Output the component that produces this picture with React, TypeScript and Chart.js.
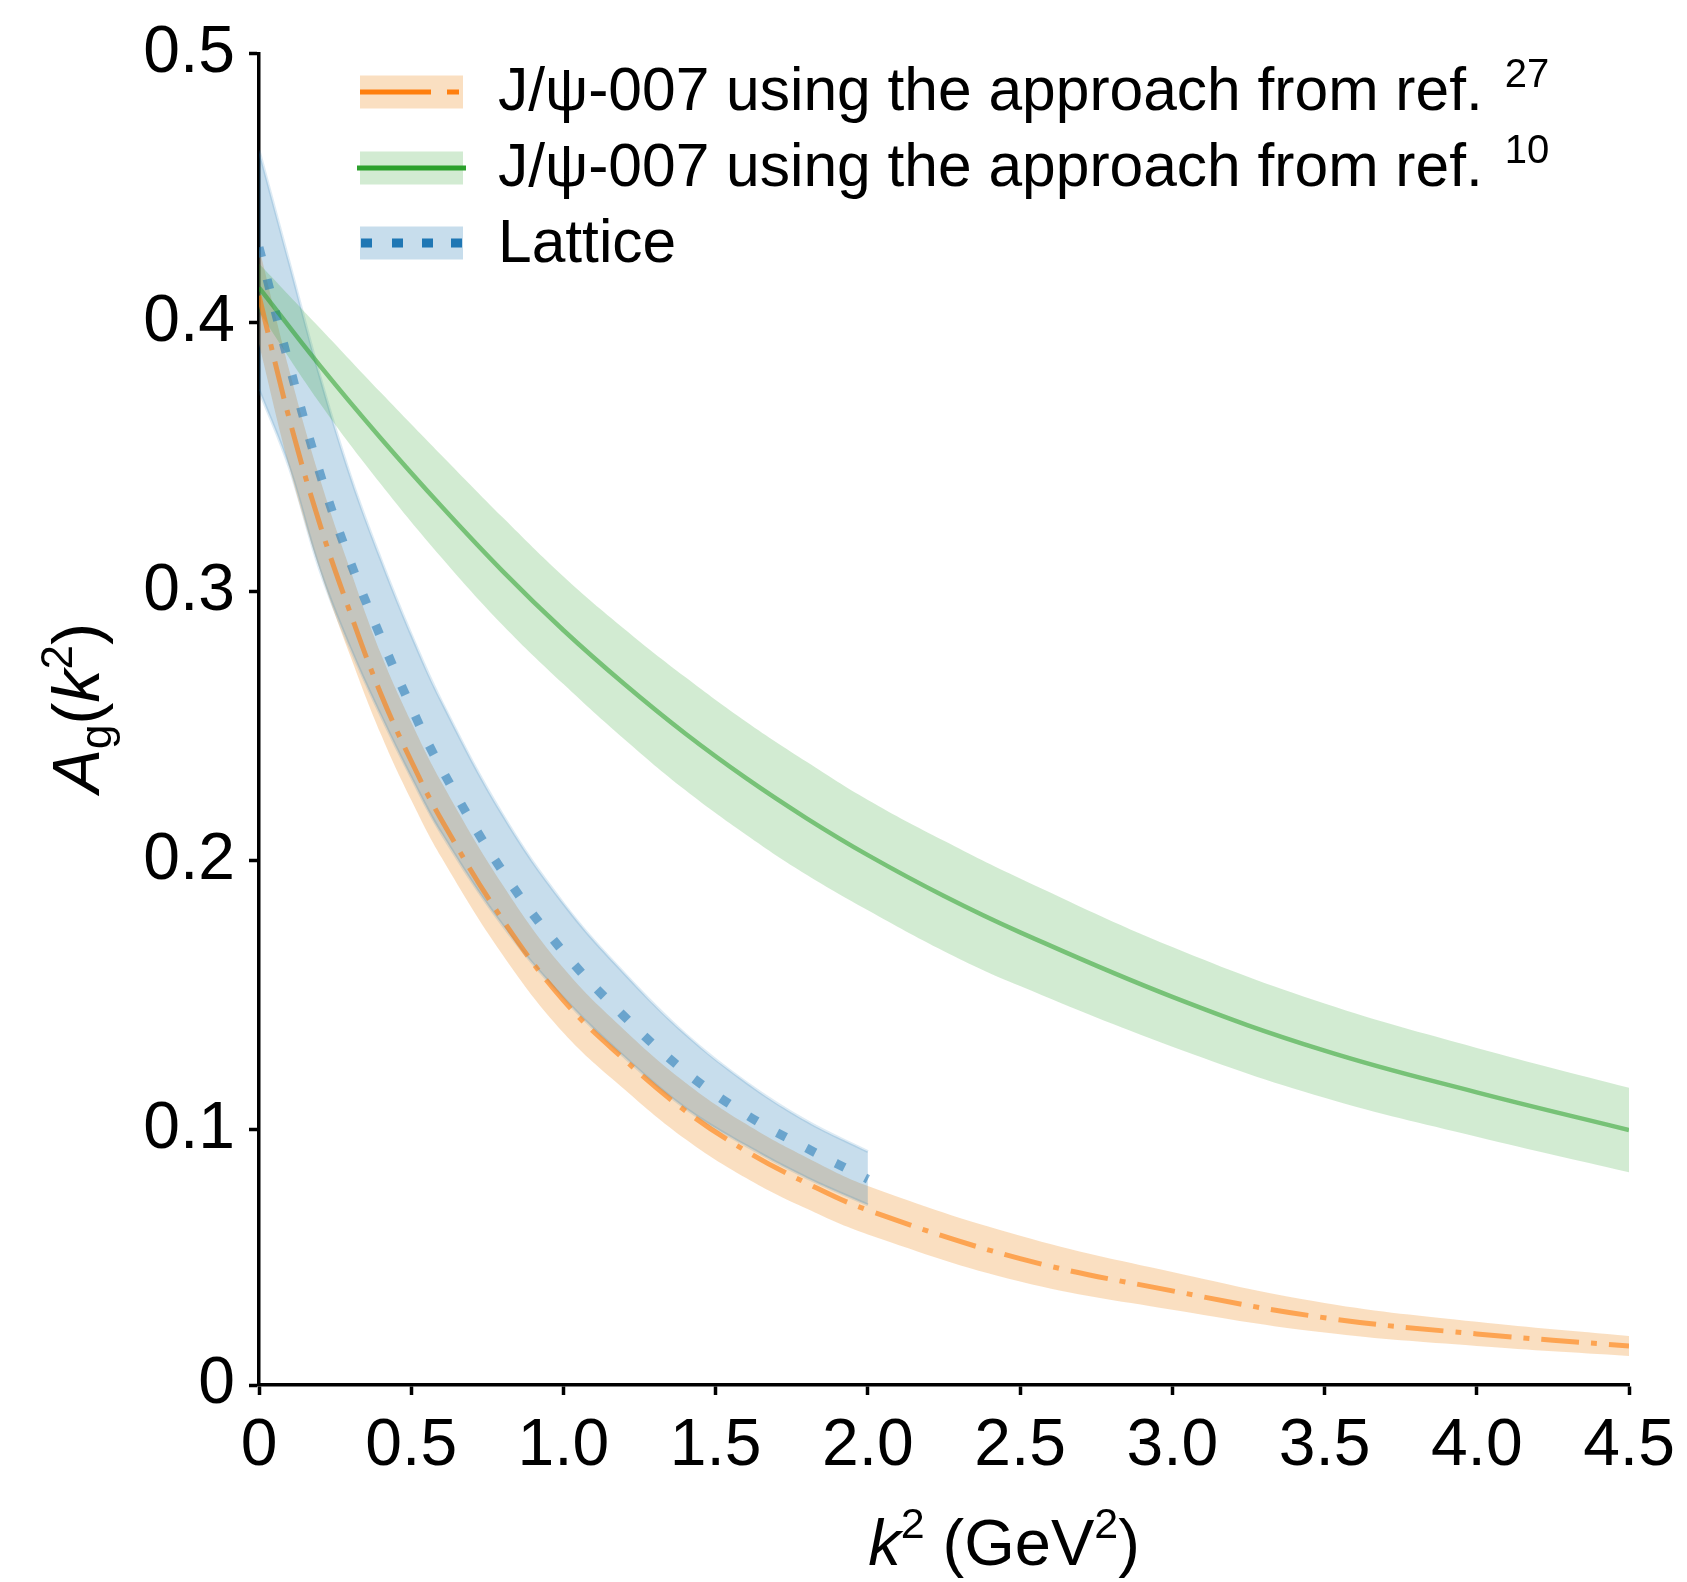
import React, { useEffect, useRef } from "react";
import { Chart, registerables } from "chart.js";

Chart.register(...registerables);

const FONT = '"Liberation Sans", Arial, Helvetica, sans-serif';

// ---------- data ----------
// J/psi-007 using the approach from ref. 27 (orange, dash-dot)
const kOrange = [0, 0.1, 0.2, 0.3, 0.4, 0.5, 0.6, 0.8, 1.0, 1.2, 1.4, 1.6, 1.8, 2.0, 2.5, 3.0, 3.5, 4.0, 4.5];
const orangeCenter = [0.41, 0.364, 0.325, 0.292, 0.262, 0.237, 0.215, 0.178, 0.148, 0.126, 0.107, 0.092, 0.08, 0.07, 0.052, 0.04, 0.03, 0.024, 0.0195];
const orangeUpper = [0.428, 0.382, 0.342, 0.308, 0.277, 0.2515, 0.229, 0.191, 0.16, 0.137, 0.1175, 0.102, 0.0895, 0.079, 0.0605, 0.047, 0.0355, 0.0285, 0.0232];
const orangeLower = [0.392, 0.346, 0.308, 0.276, 0.247, 0.2225, 0.201, 0.165, 0.136, 0.115, 0.0965, 0.082, 0.0705, 0.061, 0.0435, 0.033, 0.0245, 0.0195, 0.0158];

// J/psi-007 using the approach from ref. 10 (green, solid)
const kGreen = [0, 0.2, 0.4, 0.6, 0.8, 1.0, 1.2, 1.4, 1.6, 1.8, 2.0, 2.25, 2.5, 3.0, 3.5, 4.0, 4.5];
const greenCenter = [0.413, 0.384, 0.357, 0.3316, 0.3076, 0.2856, 0.2656, 0.2472, 0.2306, 0.2156, 0.202, 0.1868, 0.1733, 0.1493, 0.1293, 0.1138, 0.0998];
const greenUpper = [0.422, 0.398, 0.374, 0.3506, 0.3276, 0.3056, 0.2861, 0.2682, 0.2516, 0.2366, 0.2225, 0.2073, 0.1933, 0.1678, 0.1468, 0.1303, 0.1155];
const greenLower = [0.404, 0.37, 0.34, 0.3126, 0.2876, 0.2656, 0.2451, 0.2262, 0.2096, 0.1946, 0.1815, 0.1663, 0.1533, 0.1308, 0.1118, 0.0973, 0.0841];

// Lattice (blue, dotted)
const kBlue = [0, 0.1, 0.2, 0.3, 0.4, 0.5, 0.6, 0.8, 1.0, 1.2, 1.4, 1.6, 1.8, 2.0];
const blueCenter = [0.428, 0.384, 0.344, 0.311, 0.283, 0.257, 0.234, 0.196, 0.166, 0.142, 0.1215, 0.1055, 0.093, 0.0815];
const blueUpper = [0.464, 0.422, 0.38, 0.343, 0.312, 0.284, 0.259, 0.217, 0.184, 0.158, 0.1355, 0.1175, 0.103, 0.0918];
const blueLower = [0.375, 0.346, 0.308, 0.279, 0.254, 0.231, 0.21, 0.176, 0.149, 0.127, 0.108, 0.094, 0.082, 0.072];

// ticks
const xTickValues = [0, 0.5, 1.0, 1.5, 2.0, 2.5, 3.0, 3.5, 4.0, 4.5];
const xTickLabels = ["0", "0.5", "1.0", "1.5", "2.0", "2.5", "3.0", "3.5", "4.0", "4.5"];
const yTickValues = [0.005, 0.1, 0.2, 0.3, 0.4, 0.5];
const yTickLabels = ["0", "0.1", "0.2", "0.3", "0.4", "0.5"];

// legend
const legendLabels = ["J/ψ-007 using the approach from ref.", "J/ψ-007 using the approach from ref.", "Lattice"];
const legendRefs = ["27", "10", ""];

// ---------- styles ----------
const ORANGE = "rgb(255,127,14)";
const GREEN = "rgb(44,160,44)";
const BLUE = "rgb(31,119,180)";
const ORANGE_BAND = "rgba(240,150,50,0.3)";
const GREEN_BAND = "rgba(44,160,44,0.21)";
const BLUE_BAND = "rgba(31,119,180,0.25)";

const xy = (ks: number[], vs: number[]) => ks.map((k, i) => ({ x: k, y: vs[i] }));

type Run = { t: string; font: string; dy?: number };

function runsWidth(ctx: CanvasRenderingContext2D, runs: Run[]) {
  let w = 0;
  for (const r of runs) {
    ctx.font = r.font;
    w += ctx.measureText(r.t).width;
  }
  return w;
}

function drawRuns(ctx: CanvasRenderingContext2D, runs: Run[], x: number, y: number) {
  let cx = x;
  for (const r of runs) {
    ctx.font = r.font;
    ctx.fillText(r.t, cx, y + (r.dy || 0));
    cx += ctx.measureText(r.t).width;
  }
}

const textPlugin = {
  id: "customText",
  afterDraw(chart: any) {
    const ctx: CanvasRenderingContext2D = chart.ctx;
    ctx.save();
    ctx.fillStyle = "#000";
    ctx.textAlign = "left";
    ctx.textBaseline = "alphabetic";

    // ----- legend -----
    const sx = 360;
    const sw = 103;
    const sh = 33;
    const centers = [92, 168, 243];
    const baselines = [110, 186, 262];
    const bands = [ORANGE_BAND, GREEN_BAND, BLUE_BAND];
    for (let i = 0; i < 3; i++) {
      const cy = centers[i];
      ctx.fillStyle = bands[i];
      ctx.fillRect(sx, cy - sh / 2, sw, sh);
      ctx.lineCap = "butt";
      if (i === 0) {
        ctx.strokeStyle = ORANGE;
        ctx.lineWidth = 5;
        ctx.beginPath();
        ctx.moveTo(sx, cy);
        ctx.lineTo(sx + 71, cy);
        ctx.moveTo(sx + 87, cy);
        ctx.lineTo(sx + 99, cy);
        ctx.stroke();
      } else if (i === 1) {
        ctx.strokeStyle = GREEN;
        ctx.lineWidth = 5;
        ctx.beginPath();
        ctx.moveTo(sx - 3, cy);
        ctx.lineTo(sx + sw + 3, cy);
        ctx.stroke();
      } else {
        ctx.fillStyle = BLUE;
        const dots = [1, 32, 62, 91];
        for (const d of dots) ctx.fillRect(sx + d, cy - 4.5, 11, 9);
      }
      ctx.fillStyle = "#000";
      ctx.font = `60.5px ${FONT}`;
      ctx.fillText(legendLabels[i], 498, baselines[i]);
      if (legendRefs[i]) {
        const w = ctx.measureText(legendLabels[i]).width;
        ctx.font = `40px ${FONT}`;
        ctx.fillText(legendRefs[i], 498 + w + 22, baselines[i] - 23);
      }
    }

    // ----- x axis title: k² (GeV²) -----
    const xRuns: Run[] = [
      { t: "k", font: `italic 65px ${FONT}` },
      { t: "2", font: `43px ${FONT}`, dy: -27 },
      { t: " (GeV", font: `65px ${FONT}` },
      { t: "2", font: `43px ${FONT}`, dy: -27 },
      { t: ")", font: `65px ${FONT}` },
    ];
    const xw = runsWidth(ctx, xRuns);
    drawRuns(ctx, xRuns, 1004 - xw / 2, 1565);

    // ----- y axis title: A_g(k²) -----
    const yRuns: Run[] = [
      { t: "A", font: `italic 66px ${FONT}` },
      { t: "g", font: `44px ${FONT}`, dy: 12 },
      { t: "(", font: `66px ${FONT}` },
      { t: "k", font: `italic 66px ${FONT}` },
      { t: "2", font: `44px ${FONT}`, dy: -27 },
      { t: ")", font: `66px ${FONT}` },
    ];
    const yw = runsWidth(ctx, yRuns);
    ctx.translate(99, 708);
    ctx.rotate(-Math.PI / 2);
    drawRuns(ctx, yRuns, -yw / 2, 0);

    ctx.restore();
  },
};

export default function App() {
  const ref = useRef<HTMLCanvasElement | null>(null);

  useEffect(() => {
    const canvas = ref.current;
    if (!canvas) return;

    const datasets: any[] = [
      {
        label: "J/ψ-007 using the approach from ref. 10",
        data: xy(kGreen, greenCenter),
        borderColor: "rgba(44,160,44,0.55)",
        borderWidth: 4.5,
        fill: false,
        order: 0,
      },
      {
        label: "J/ψ-007 using the approach from ref. 27",
        data: xy(kOrange, orangeCenter),
        borderColor: "rgba(255,127,14,0.62)",
        borderWidth: 5,
        borderDash: [38, 12, 6, 12],
        fill: false,
        order: 1,
      },
      {
        label: "Lattice",
        data: xy(kBlue, blueCenter),
        borderColor: "rgba(31,119,180,0.55)",
        borderWidth: 9,
        borderDash: [10, 23],
        fill: false,
        order: 2,
      },
      {
        label: "ref10 upper",
        data: xy(kGreen, greenUpper),
        borderColor: "rgba(0,0,0,0)",
        borderWidth: 1,
        backgroundColor: GREEN_BAND,
        fill: "+1",
        order: 10,
      },
      {
        label: "ref10 lower",
        data: xy(kGreen, greenLower),
        borderColor: "rgba(0,0,0,0)",
        borderWidth: 1,
        fill: false,
        order: 11,
      },
      {
        label: "lattice upper",
        data: xy(kBlue, blueUpper),
        borderColor: "rgba(31,119,180,0.15)",
        borderWidth: 3,
        backgroundColor: BLUE_BAND,
        fill: "+1",
        order: 12,
      },
      {
        label: "lattice lower",
        data: xy(kBlue, blueLower),
        borderColor: "rgba(31,119,180,0.15)",
        borderWidth: 3,
        fill: false,
        order: 13,
      },
      {
        label: "ref27 upper",
        data: xy(kOrange, orangeUpper),
        borderColor: "rgba(0,0,0,0)",
        borderWidth: 1,
        backgroundColor: ORANGE_BAND,
        fill: "+1",
        order: 14,
      },
      {
        label: "ref27 lower",
        data: xy(kOrange, orangeLower),
        borderColor: "rgba(0,0,0,0)",
        borderWidth: 1,
        fill: false,
        order: 15,
      },
    ];

    const tickFont = { family: FONT, size: 66 };

    const chart = new Chart(canvas, {
      type: "line",
      data: { datasets },
      options: {
        responsive: false,
        animation: false,
        devicePixelRatio: 1,
        events: [],
        layout: { padding: { top: 50, right: 58, bottom: 0, left: 0 } },
        plugins: {
          legend: { display: false },
          tooltip: { enabled: false },
          title: { display: false },
        },
        elements: {
          point: { radius: 0, hoverRadius: 0 },
          line: { tension: 0.4, cubicInterpolationMode: "default" },
        },
        scales: {
          x: {
            type: "linear",
            min: 0,
            max: 4.5,
            afterBuildTicks: (s: any) => {
              s.ticks = xTickValues.map((v) => ({ value: v }));
            },
            afterFit: (s: any) => {
              s.height = 197;
            },
            ticks: {
              autoSkip: false,
              maxRotation: 0,
              minRotation: 0,
              padding: 12,
              color: "#000",
              font: tickFont,
              callback: (_v: any, i: number) => xTickLabels[i],
            },
            grid: {
              display: true,
              drawOnChartArea: false,
              drawTicks: true,
              tickLength: 10,
              tickWidth: 3.5,
              tickColor: "#000",
            },
            border: { display: true, color: "#000", width: 3.5 },
          },
          y: {
            type: "linear",
            min: 0.005,
            max: 0.5,
            afterBuildTicks: (s: any) => {
              s.ticks = yTickValues.map((v) => ({ value: v }));
            },
            afterFit: (s: any) => {
              s.width = 259;
            },
            ticks: {
              autoSkip: false,
              padding: 14,
              color: "#000",
              font: tickFont,
              callback: (_v: any, i: number) => yTickLabels[i],
            },
            grid: {
              display: true,
              drawOnChartArea: false,
              drawTicks: true,
              tickLength: 10,
              tickWidth: 3.5,
              tickColor: "#000",
            },
            border: { display: true, color: "#000", width: 3.5 },
          },
        },
      } as any,
      plugins: [textPlugin],
    });

    return () => chart.destroy();
  }, []);

  return (
    <div style={{ position: "fixed", left: 0, top: 0, width: 1687, height: 1582, background: "#fff" }}>
      <canvas ref={ref} width={1687} height={1582} style={{ width: 1687, height: 1582, display: "block" }} />
    </div>
  );
}
